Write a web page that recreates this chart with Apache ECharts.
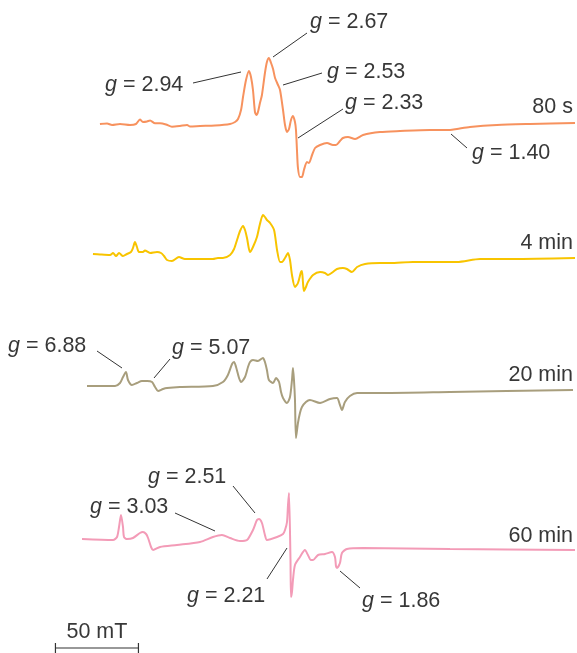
<!DOCTYPE html>
<html><head><meta charset="utf-8">
<script src="https://cdn.jsdelivr.net/npm/echarts@6/dist/echarts.min.js"></script>
<style>html,body{margin:0;padding:0;background:#fff}#c{width:577px;height:653px}</style>
</head><body><div id="c"></div>
<script>
// Magnetic field (mT, relative) and signal intensity (arbitrary units) for each spectrum
const field80s = [60.2,64.5,67.5,72.3,78.3,81.9,84.3,86.1,88.6,90.4,93.4,96.4,100.0,103.6,108.4,112.7,114.5,120.5,129.5,138.6,141.6,143.4,145.2,146.4,148.2,150.0,151.2,152.4,153.6,154.5,155.4,156.6,157.8,159.6,160.8,162.0,163.3,164.5,165.7,167.5,168.7,170.5,171.7,172.9,174.1,175.3,176.5,177.7,178.3,178.9,179.5,180.7,181.9,183.1,184.9,186.1,188.0,189.8,192.8,197.0,200.6,202.4,204.8,206.6,209.6,213.9,218.7,228.9,241.0,259.0,271.1,275.3,283.1,299.4,319.3,346.4];
const signal80s = [1,1.5,0,1,0,1,5.5,3,3.5,4.5,1.7,1.7,0.5,-1.7,-1,0,-1.5,-1,-0.5,1,3,6,15,28,45,54,48,35,13,10,13,22,30,52,63,67,62,56,47,40,35,15,0,-7,-4,5,9,3,-5,-25,-43,-52,-52,-45,-37,-38,-30,-23,-20,-18,-20,-20,-16,-13,-12,-14,-10,-7,-6,-5,-5,-4,-2,0,1,2];

const field4min = [56.0,60.2,66.3,68.1,69.9,71.7,74.1,76.5,78.9,80.1,81.3,82.5,83.7,86.1,87.3,90.4,94.6,97.0,98.8,100.6,103.6,107.8,111.4,120.5,128.3,131.3,134.3,138.6,141.0,142.8,144.6,146.4,147.6,148.8,150.6,152.4,154.8,156.6,158.4,159.6,160.8,162.7,165.1,166.9,168.7,169.9,171.7,173.5,174.7,175.9,177.7,179.5,181.3,181.9,182.5,183.1,184.3,185.5,188.6,192.8,195.8,197.6,200.6,203.0,206.6,209.0,212.0,215.1,219.9,228.9,234.9,248.8,275.3,289.2,309.0,346.4];
const signal4min = [1,0.5,0,2,-1,2,-1,1,3,7,13,8,3,3,4.5,2,3,2,-1,-5,-6,-2,-4,-4,-4,-3,-3,0,6,15,24,29,25,17,3,8,18,31,40,38,35,32,25,5,-7,-7,-3,2,-5,-20,-32,-28,-17,-16,-27,-36,-32,-27,-20,-17,-18,-20,-17,-14,-13,-14,-17,-12,-9,-8,-8,-7,-7,-4,-4,-3];

const field20min = [52.4,69.3,72.3,74.1,75.9,77.1,79.5,82.5,85.5,88.6,91.6,93.4,95.2,98.2,100.6,108.4,128.3,134.3,137.3,139.8,141.0,142.2,144.0,145.2,147.6,149.4,150.6,152.4,155.4,158.4,159.6,160.8,162.0,164.5,166.3,168.1,169.3,170.5,172.9,174.7,175.9,176.5,177.1,177.7,178.3,179.5,180.7,181.9,184.3,186.7,192.8,198.8,203.0,204.8,206.0,207.8,210.8,215.1,230.7,271.1,345.2];
const signal20min = [0,0,3,9,14,6,1,3,5,5,4,-1,-5,-3,-2,-1,0,4,11,22,24,19,8,4,9,19,24,26,25,28,24,16,6,3,8,4,-6,-12,-17,-11,6,18,6,-14,-52,-37,-27,-21,-16,-14,-17,-13,-12,-19,-24,-16,-10,-7,-7,-6,-4];

const field60min = [49.4,68.1,70.5,71.7,72.9,74.1,74.7,76.5,80.1,84.3,86.1,88.0,89.2,91.0,92.2,96.4,106.6,120.5,128.3,133.7,138.6,144.6,148.8,152.4,154.8,156.0,157.8,159.6,160.8,166.9,170.5,171.7,172.9,173.5,174.1,175.0,175.3,175.9,176.5,177.7,180.7,183.7,185.5,187.3,188.6,191.6,195.8,200.0,201.8,202.4,203.0,204.8,206.0,209.0,218.7,271.1,346.4];
const signal60min = [1,0,3,13,25,13,3,1,2,7,8,6,2,-7,-10,-7,-5,-2,3,5,2,-1,0,10,20,21,17,5,0,3,6,10,18,35,47,-20,-57,-52,-40,-25,-17,-10,-15,-20,-20,-15,-14,-12,-17,-26,-28,-23,-13,-9,-8,-9,-10];

const seriesNames = ['80 s','4 min','20 min','60 min'];
const seriesColors = ['#F7925E','#F8C400','#A89E7D','#F39BB7'];
const fields = [field80s, field4min, field20min, field60min];
const signals = [signal80s, signal4min, signal20min, signal60min];

// g-value annotations: [label, text-left, text-centerY, leaderX1, leaderY1, leaderX2, leaderY2]
const gLabels = [
  ['2.94',105,85,193,83,241,72],
  ['2.67',310,22,273,57,307,33],
  ['2.53',327,72,283,85,322,73],
  ['2.33',345,103,298,138,343,109],
  ['1.40',472,153,451,134,467,148],
  ['6.88',8,346,97,351,122,368],
  ['5.07',172,348,154,378,170,359],
  ['2.51',148,477,233,486,255,513],
  ['3.03',90,507,175,513,215,531],
  ['2.21',187,596,267,579,287,548],
  ['1.86',362,601,340,571,360,588]
];
const timeLabelY = [107,243,375,536];
const scaleBarMT = 50;
const scaleBarStart = 33.4;

const gridTops = [55,185,316,470];
const FONT = 'Liberation Sans';
const FS = 21.5;
const chart = echarts.init(document.getElementById('c'), null, {renderer:'canvas'});

const grids = [], xAxes = [], yAxes = [], series = [];
for (let i = 0; i < 4; i++) {
  grids.push({left:0, right:0, top:gridTops[i], height:140});
  xAxes.push({type:'value', gridIndex:i, min:0, max:347.6, show:false});
  yAxes.push({type:'value', gridIndex:i, min:-70, max:70, show:false});
  series.push({
    name: seriesNames[i], type:'line', xAxisIndex:i, yAxisIndex:i,
    data: fields[i].map((f,k)=>[f, signals[i][k]]),
    showSymbol:false, smooth:0.25, lineStyle:{color:seriesColors[i], width:2},
    itemStyle:{color:seriesColors[i]}, silent:true
  });
}

const fontStr = FS + 'px "' + FONT + '"';
const graphics = [];
gLabels.forEach(g => {
  graphics.push({type:'text', silent:true, x:g[1], y:g[2],
    style:{text:'{i|g} = ' + g[0], fill:'#383838', font:fontStr, textVerticalAlign:'middle',
      rich:{i:{fontStyle:'italic', fontSize:FS, fontFamily:FONT, fill:'#383838'}}}});
  graphics.push({type:'line', silent:true, shape:{x1:g[3],y1:g[4],x2:g[5],y2:g[6]},
    style:{stroke:'#333', lineWidth:1}});
});
seriesNames.forEach((n,i) => {
  graphics.push({type:'text', silent:true, x:573, y:timeLabelY[i],
    style:{text:n, fill:'#383838', font:fontStr, textAlign:'right', textVerticalAlign:'middle'}});
});

chart.setOption({animation:false, grid:grids, xAxis:xAxes, yAxis:yAxes, series:series});

// scale bar via the field axis
const p0 = chart.convertToPixel({xAxisIndex:3}, scaleBarStart);
const p1 = chart.convertToPixel({xAxisIndex:3}, scaleBarStart + scaleBarMT);
const by = 648;
graphics.push({type:'line', silent:true, shape:{x1:p0,y1:by,x2:p1,y2:by}, style:{stroke:'#333', lineWidth:1.2}});
graphics.push({type:'line', silent:true, shape:{x1:p0,y1:by-5,x2:p0,y2:by+5}, style:{stroke:'#333', lineWidth:1.2}});
graphics.push({type:'line', silent:true, shape:{x1:p1,y1:by-5,x2:p1,y2:by+5}, style:{stroke:'#333', lineWidth:1.2}});
graphics.push({type:'text', silent:true, x:(p0+p1)/2, y:632,
  style:{text:scaleBarMT + ' mT', fill:'#383838', font:fontStr, textAlign:'center', textVerticalAlign:'middle'}});

chart.setOption({graphic:graphics});
</script></body></html>
